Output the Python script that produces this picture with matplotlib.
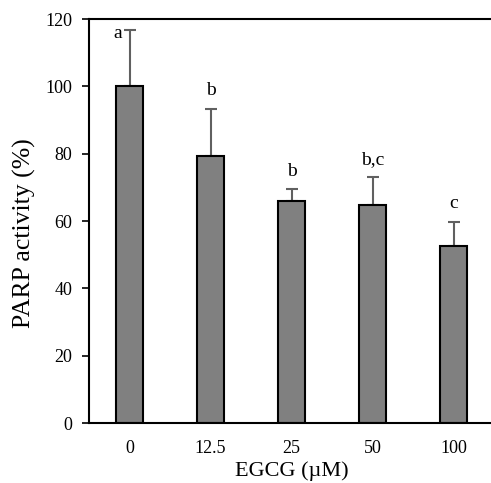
import matplotlib
matplotlib.use("Agg")
import matplotlib.pyplot as plt

categories = ["0", "12.5", "25", "50", "100"]
values = [100.0, 79.2, 65.9, 64.7, 52.6]
errors = [16.8, 14.2, 3.5, 8.3, 7.2]
letters = ["a", "b", "b", "b,c", "c"]
yticks = [0, 20, 40, 60, 80, 100, 120]

plt.rcParams['font.family'] = ['Liberation Serif', 'DejaVu Serif']

fig = plt.figure(figsize=(4.91, 4.83), dpi=100)
ax = fig.add_axes([89 / 491, 60 / 483, 405 / 491, 404 / 483])

x = list(range(len(categories)))
ax.bar(x, values, width=0.33, color="#808080", edgecolor="black", linewidth=1.5, zorder=2)
ax.errorbar(x, values, yerr=[[0] * len(errors), errors], fmt="none",
            ecolor="#606060", elinewidth=1.5, capsize=4, capthick=1.5, zorder=1)

for i, (v, e, l) in enumerate(zip(values, errors, letters)):
    if i == 0:
        ax.text(i - 0.14, v + e - 1.0, l, ha="center", va="center", fontsize=14)
    else:
        ax.text(i, v + e + 5.3, l, ha="center", va="center", fontsize=14)

ax.set_xlim(-0.5, 4.5)
ax.set_ylim(0, 120)
ax.set_xticks(x)
ax.set_xticklabels(categories, fontsize=13)
ax.set_yticks(yticks)
ax.set_yticklabels([str(t) for t in yticks], fontsize=13)
ax.tick_params(axis="x", length=0, pad=12)
ax.tick_params(axis="y", length=5, width=1.2, direction="out", pad=7)
for s in ax.spines.values():
    s.set_linewidth(1.5)

ax.set_xlabel("EGCG (\u00b5M)", fontsize=16, labelpad=3)
ax.set_ylabel("PARP activity (%)", fontsize=18.5)
ax.yaxis.set_label_coords(-0.13, 0.47)

fig.savefig("out.png", dpi=100)
